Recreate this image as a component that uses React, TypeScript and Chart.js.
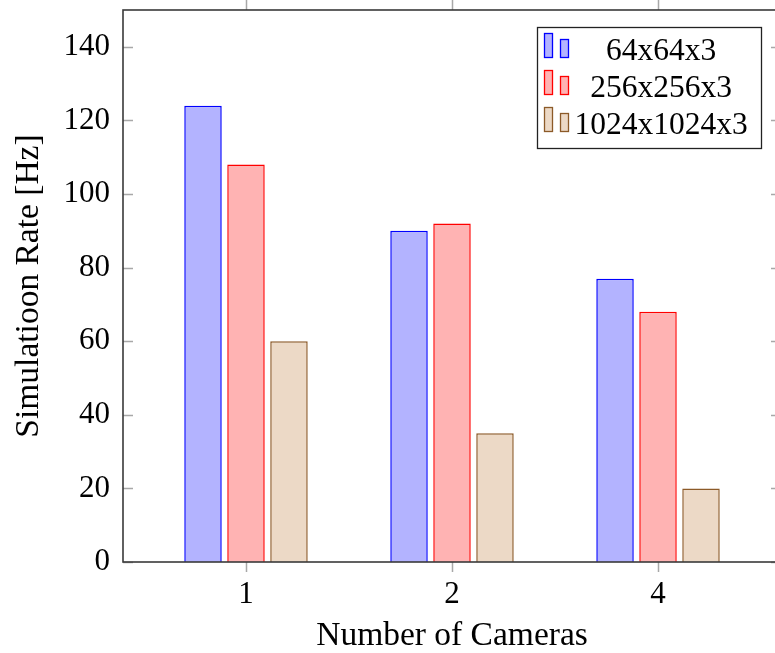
import React, { useEffect, useRef } from 'react';
import { Chart, registerables } from 'chart.js';

Chart.register(...registerables);

const CAMERAS = ['1', '2', '4'];
const SERIES_LABELS = ['64x64x3', '256x256x3', '1024x1024x3'];
const RATE_64 = [124, 90, 77];
const RATE_256 = [108, 92, 68];
const RATE_1024 = [60, 35, 20];
const Y_TICKS = [0, 20, 40, 60, 80, 100, 120, 140];
const Y_MAX = 150;

const FONT = '"Liberation Serif", "Times New Roman", serif';
const FILLS = ['rgb(179,179,255)', 'rgb(255,179,179)', 'rgb(236,217,198)'];
const BORDERS = ['rgb(0,0,255)', 'rgb(255,0,0)', 'rgb(140,90,40)'];

const framePlugin = {
  id: 'frameAndLegend',
  afterDraw(chart: any) {
    const { ctx, chartArea: a, scales } = chart;
    ctx.save();
    // tick marks
    ctx.strokeStyle = '#a8a8a8';
    ctx.lineWidth = 1.5;
    Y_TICKS.forEach((v) => {
      const py = Math.round(scales.y.getPixelForValue(v)) + 0.5;
      ctx.beginPath();
      ctx.moveTo(a.left, py);
      ctx.lineTo(a.left + 10, py);
      ctx.moveTo(a.right, py);
      ctx.lineTo(a.right - 10, py);
      ctx.stroke();
    });
    CAMERAS.forEach((_, i) => {
      const px = Math.round(scales.x.getPixelForValue(i)) + 0.5;
      ctx.beginPath();
      ctx.moveTo(px, a.bottom);
      ctx.lineTo(px, a.bottom + 10);
      ctx.moveTo(px, a.top);
      ctx.lineTo(px, a.top - 10);
      ctx.stroke();
    });
    // frame
    ctx.strokeStyle = '#3a3a3a';
    ctx.lineWidth = 1.6;
    ctx.strokeRect(a.left, a.top, a.right - a.left, a.bottom - a.top);

    // legend
    const boxW = 224;
    const boxH = 121;
    const bx = a.right - 20 - boxW;
    const by = a.top + 17;
    ctx.fillStyle = '#ffffff';
    ctx.fillRect(bx, by, boxW, boxH);
    ctx.strokeStyle = '#222';
    ctx.lineWidth = 1.3;
    ctx.strokeRect(bx + 0.5, by + 0.5, boxW, boxH);
    ctx.font = `31.5px ${FONT}`;
    ctx.textAlign = 'center';
    ctx.textBaseline = 'alphabetic';
    chart.data.datasets.forEach((ds: any, i: number) => {
      const rowTop = by + 6 + 37 * i;
      ctx.fillStyle = ds.backgroundColor;
      ctx.strokeStyle = ds.borderColor;
      ctx.lineWidth = 1.3;
      ctx.fillRect(bx + 7, rowTop, 9, 25);
      ctx.strokeRect(bx + 7.5, rowTop + 0.5, 8, 24);
      ctx.fillRect(bx + 23, rowTop + 6, 9, 19);
      ctx.strokeRect(bx + 23.5, rowTop + 6.5, 8, 18);
      ctx.fillStyle = '#000';
      ctx.fillText(ds.label, bx + 124, rowTop + 26.5);
    });
    ctx.restore();
  },
};

export default function App() {
  const ref = useRef<HTMLCanvasElement | null>(null);

  useEffect(() => {
    if (!ref.current) return;
    const series = [RATE_64, RATE_256, RATE_1024];
    const chart = new Chart(ref.current, {
      type: 'bar',
      data: {
        datasets: series.map((vals, s) => ({
          label: SERIES_LABELS[s],
          data: vals.map((v, i) => ({ x: i, y: v })),
          backgroundColor: FILLS[s],
          borderColor: BORDERS[s],
          borderWidth: 1.5,
          barPercentage: 0.872,
          categoryPercentage: 0.626,
        })),
      },
      options: {
        animation: false,
        responsive: false,
        maintainAspectRatio: false,
        devicePixelRatio: 1,
        layout: { padding: { top: 10, right: 9, left: 0, bottom: 0 } },
        plugins: {
          legend: { display: false },
          tooltip: { enabled: false },
        },
        scales: {
          x: {
            type: 'linear',
            offset: false,
            min: -0.597,
            max: 2.597,
            grid: { display: false, drawTicks: false },
            border: { display: false },
            afterBuildTicks: (scale: any) => {
              scale.ticks = CAMERAS.map((_, i) => ({ value: i }));
            },
            afterFit: (scale: any) => {
              scale.height = 91;
              scale.paddingLeft = 0;
              scale.paddingRight = 0;
            },
            ticks: {
              autoSkip: false,
              maxRotation: 0,
              padding: 14,
              color: '#000',
              font: { family: FONT, size: 31 },
              callback: (v: any) => CAMERAS[Math.round(Number(v))] ?? '',
            },
            title: {
              display: true,
              text: 'Number of Cameras',
              color: '#000',
              font: { family: FONT, size: 33.5, lineHeight: 1 },
              padding: { top: 0, bottom: 0 },
            },
          },
          y: {
            type: 'linear',
            min: 0,
            max: Y_MAX,
            grid: { display: false, drawTicks: false },
            border: { display: false },
            afterBuildTicks: (scale: any) => {
              scale.ticks = Y_TICKS.map((v) => ({ value: v }));
            },
            afterFit: (scale: any) => {
              scale.width = 123;
              scale.paddingTop = 0;
              scale.paddingBottom = 0;
            },
            ticks: {
              padding: 13,
              color: '#000',
              font: { family: FONT, size: 31 },
            },
            title: {
              display: true,
              text: 'Simulatioon Rate [Hz]',
              color: '#000',
              font: { family: FONT, size: 33.5, lineHeight: 1 },
              padding: { top: 12, bottom: 0 },
            },
          },
        },
      },
      plugins: [framePlugin],
    });
    return () => chart.destroy();
  }, []);

  return (
    <div
      style={{
        position: 'fixed',
        left: 0,
        top: 0,
        width: 775,
        height: 653,
        overflow: 'hidden',
        background: '#fff',
      }}
    >
      <canvas ref={ref} width={790} height={653} style={{ display: 'block', width: 790, height: 653 }} />
    </div>
  );
}
